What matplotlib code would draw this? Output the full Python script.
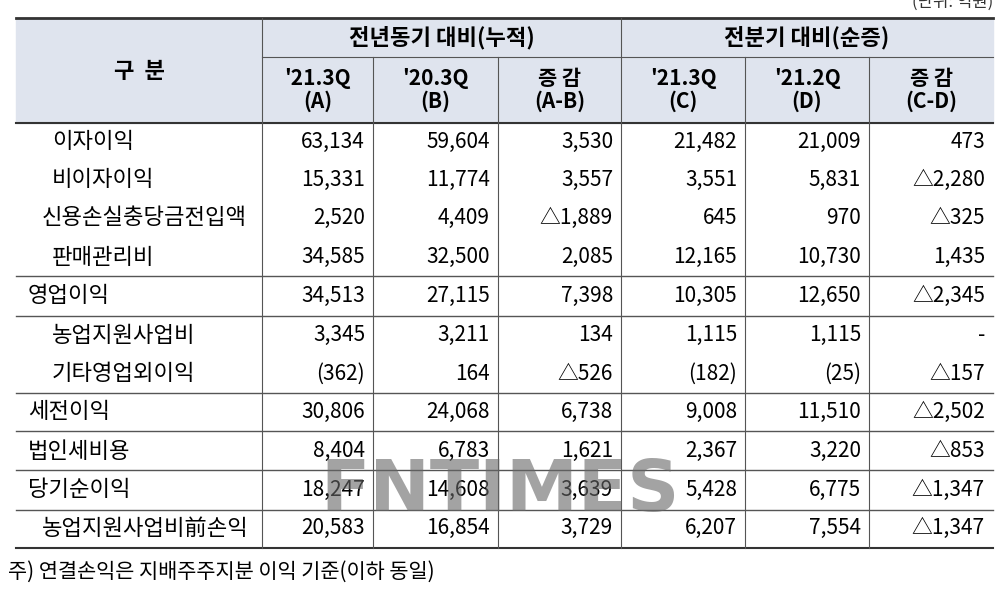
import matplotlib
matplotlib.use("Agg")
import matplotlib.pyplot as plt

plt.rcParams['font.family'] = ['Noto Sans CJK KR', 'DejaVu Sans']

categories = ["이자이익", "비이자이익", "신용손실충당금전입액", "판매관리비", "영업이익",
              "농업지원사업비", "기타영업외이익", "세전이익", "법인세비용", "당기순이익",
              "농업지원사업비前손익"]
indent = [52, 52, 42, 52, 28, 52, 52, 28, 28, 28, 42]
col_a = ["63,134", "15,331", "2,520", "34,585", "34,513", "3,345", "(362)", "30,806", "8,404", "18,247", "20,583"]
col_b = ["59,604", "11,774", "4,409", "32,500", "27,115", "3,211", "164", "24,068", "6,783", "14,608", "16,854"]
col_ab = ["3,530", "3,557", "△1,889", "2,085", "7,398", "134", "△526", "6,738", "1,621", "3,639", "3,729"]
col_c = ["21,482", "3,551", "645", "12,165", "10,305", "1,115", "(182)", "9,008", "2,367", "5,428", "6,207"]
col_d = ["21,009", "5,831", "970", "10,730", "12,650", "1,115", "(25)", "11,510", "3,220", "6,775", "7,554"]
col_cd = ["473", "△2,280", "△325", "1,435", "△2,345", "-", "△157", "△2,502", "△853", "△1,347", "△1,347"]
group1 = "전년동기 대비(누적)"
group2 = "전분기 대비(순증)"
sub_headers = ["'21.3Q\n(A)", "'20.3Q\n(B)", "증 감\n(A-B)", "'21.3Q\n(C)", "'21.2Q\n(D)", "증 감\n(C-D)"]
unit = "(단위: 억원)"
note = "주) 연결손익은 지배주주지분 이익 기준(이하 동일)"

fig = plt.figure(figsize=(10, 5.9), dpi=100)
ax = fig.add_axes([0, 0, 1, 1])
ax.set_xlim(0, 1000)
ax.set_ylim(590, 0)
ax.axis('off')

L, R = 16, 993
cols = [262, 373, 498, 621, 745, 869, R]
top, mid, hbot = 18, 57, 123
rows_y = [142, 180, 218, 257, 296, 335, 374, 412, 451, 490, 528]
hlines = [276, 316, 393, 431, 470, 510]
bot = 548
line_c = '#555555'

ax.add_patch(plt.Rectangle((L, top), R - L, hbot - top, color='#dfe4ee', zorder=0))
ax.plot([L, R], [top, top], color='#333333', lw=2)
ax.plot([cols[0], R], [mid, mid], color=line_c, lw=0.8)
ax.plot([L, R], [hbot, hbot], color='#333333', lw=1.5)
for y in hlines:
    ax.plot([L, R], [y, y], color=line_c, lw=1)
ax.plot([L, R], [bot, bot], color='#333333', lw=1.5)
for x in cols[:-1]:
    if x in (262, 621):
        ax.plot([x, x], [top, bot], color=line_c, lw=0.8)
    else:
        ax.plot([x, x], [mid, bot], color=line_c, lw=0.8)

ax.text((L + cols[0]) / 2, 72, "구  분", ha='center', va='center', fontsize=16, fontweight='bold')
ax.text((cols[0] + cols[3]) / 2, 38, group1, ha='center', va='center', fontsize=16, fontweight='bold')
ax.text((cols[3] + R) / 2, 38, group2, ha='center', va='center', fontsize=16, fontweight='bold')
for i, h in enumerate(sub_headers):
    ax.text((cols[i] + cols[i + 1]) / 2, 90, h, ha='center', va='center', fontsize=15,
            fontweight='bold', linespacing=1.05)

data = [col_a, col_b, col_ab, col_c, col_d, col_cd]
for r, y in enumerate(rows_y):
    ax.text(indent[r], y, categories[r], ha='left', va='center', fontsize=16)
    for c, col in enumerate(data):
        ax.text(cols[c + 1] - 8, y, col[r], ha='right', va='center', fontsize=15)

ax.text(R, 2, unit, ha='right', va='center', fontsize=12, color='#333333')
ax.text(8, 572, note, ha='left', va='center', fontsize=15)
ax.text(500, 492, "FNTIMES", ha='center', va='center', fontsize=52, fontweight='bold',
        color='#666666', alpha=0.6, family='DejaVu Sans')

fig.savefig("out.png", dpi=100)
